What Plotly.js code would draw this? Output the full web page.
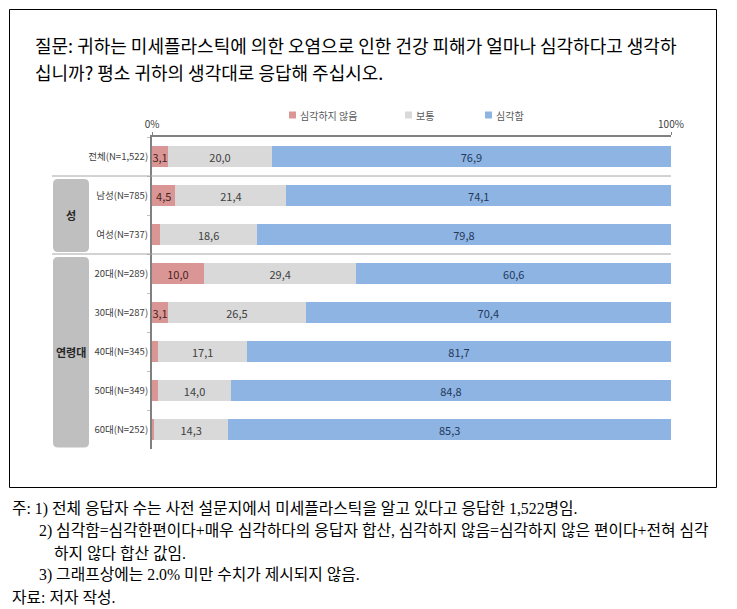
<!DOCTYPE html>
<html>
<head>
<meta charset="utf-8">
<script src="https://cdn.plot.ly/plotly-3.0.1.min.js"></script>
<style>
  html, body { margin: 0; padding: 0; background: #fff; }
  #myDiv { width: 737px; height: 609px; }
</style>
</head>
<body>
<div id="myDiv"></div>
<script>
// categories (top to bottom)
var groups = ['전체(N=1,522)', '남성(N=785)', '여성(N=737)', '20대(N=289)',
              '30대(N=287)', '40대(N=345)', '50대(N=349)', '60대(N=252)'];

// percentages
var notSerious = [3.1, 4.5, 1.6, 10.0, 3.1, 1.2, 1.2, 0.4];
var normal     = [20.0, 21.4, 18.6, 29.4, 26.5, 17.1, 14.0, 14.3];
var serious    = [76.9, 74.1, 79.8, 60.6, 70.4, 81.7, 84.8, 85.3];

var seriesNames = ['심각하지 않음', '보통', '심각함'];
var seriesColors = ['#d99694', '#d9d9d9', '#8eb4e3'];

// values under 2.0% are not shown (note 3)
function labels(arr) {
    return arr.map(function (v) {
        return v < 2 ? '' : v.toFixed(1).replace('.', ',');
    });
}

// pixel -> paper helpers (plot area: x 152..671, y 137..449)
function px(x) { return (x - 152) / 519; }
function py(y) { return (449 - y) / 312; }

var font = '"Noto Sans CJK KR", "Noto Sans", sans-serif';
var serif = '"Liberation Serif", "Noto Sans CJK KR", serif';

function barTrace(vals, i, txtColor) {
    return {
        type: 'bar',
        orientation: 'h',
        y: groups,
        x: vals,
        name: seriesNames[i],
        marker: {color: seriesColors[i], line: {width: 0}},
        text: labels(vals),
        textposition: 'inside',
        insidetextanchor: 'middle',
        textangle: 0,
        constraintext: 'none',
        insidetextfont: {family: font, size: 11, color: txtColor},
        hoverinfo: 'x+name'
    };
}

var data = [
    barTrace(notSerious, 0, '#4a2424'),
    barTrace(normal, 1, '#404040'),
    barTrace(serious, 2, '#24385a')
];

function roundRect(x0, x1, y0, y1) {
    var rx = 5 / 519, ry = 5 / 39;
    return 'M' + (x0 + rx) + ',' + y0 + ' L' + (x1 - rx) + ',' + y0 +
        ' Q' + x1 + ',' + y0 + ' ' + x1 + ',' + (y0 + ry) +
        ' L' + x1 + ',' + (y1 - ry) +
        ' Q' + x1 + ',' + y1 + ' ' + (x1 - rx) + ',' + y1 +
        ' L' + (x0 + rx) + ',' + y1 +
        ' Q' + x0 + ',' + y1 + ' ' + x0 + ',' + (y1 - ry) +
        ' L' + x0 + ',' + (y0 + ry) +
        ' Q' + x0 + ',' + y0 + ' ' + (x0 + rx) + ',' + y0 + ' Z';
}

var notes = [
    {x: 10, y: 509, t: '주: 1) 전체 응답자 수는 사전 설문지에서 미세플라스틱을 알고 있다고 응답한 1,522명임.'},
    {x: 37, y: 531, t: '2) 심각함=심각한편이다+매우 심각하다의 응답자 합산, 심각하지 않음=심각하지 않은 편이다+전혀 심각'},
    {x: 52, y: 553, t: '하지 않다 합산 값임.'},
    {x: 37, y: 575, t: '3) 그래프상에는 2.0% 미만 수치가 제시되지 않음.'},
    {x: 10, y: 597, t: '자료: 저자 작성.'}
];

var annotations = [
    {xref: 'paper', yref: 'paper', x: px(33), y: py(45), xanchor: 'left', yanchor: 'middle', showarrow: false,
     text: '질문: 귀하는 미세플라스틱에 의한 오염으로 인한 건강 피해가 얼마나 심각하다고 생각하',
     font: {family: font, size: 18, color: '#000'}},
    {xref: 'paper', yref: 'paper', x: px(33), y: py(72), xanchor: 'left', yanchor: 'middle', showarrow: false,
     text: '십니까? 평소 귀하의 생각대로 응답해 주십시오.',
     font: {family: font, size: 18, color: '#000'}},
    {xref: 'paper', yref: 'y', x: px(71), y: 1.5, xanchor: 'center', yanchor: 'middle', showarrow: false,
     text: '<b>성</b>', font: {family: font, size: 11, color: '#262626'}},
    {xref: 'paper', yref: 'y', x: px(71), y: 5, xanchor: 'center', yanchor: 'middle', showarrow: false,
     text: '<b>연령대</b>', font: {family: font, size: 11, color: '#262626'}}
];
notes.forEach(function (n) {
    annotations.push({xref: 'paper', yref: 'paper', x: px(n.x), y: py(n.y), xanchor: 'left', yanchor: 'middle',
        showarrow: false, text: n.t, font: {family: serif, size: 15.8, color: '#000'}});
});

var shapes = [
    // outer frame
    {type: 'rect', xref: 'paper', yref: 'paper', x0: px(9.5), x1: px(716.5), y0: py(487.5), y1: py(9.5),
     line: {color: '#000', width: 1}},
    // group separators
    {type: 'line', xref: 'paper', yref: 'y', x0: px(52), x1: 1, y0: 0.5, y1: 0.5, line: {color: '#a6a6a6', width: 1}},
    {type: 'line', xref: 'paper', yref: 'y', x0: px(52), x1: 1, y0: 2.5, y1: 2.5, line: {color: '#a6a6a6', width: 1}},
    // group boxes
    {type: 'path', xref: 'paper', yref: 'y', path: roundRect(px(53), px(89), 0.58, 2.45),
     fillcolor: '#bfbfbf', line: {width: 0}},
    {type: 'path', xref: 'paper', yref: 'y', path: roundRect(px(53), px(89), 2.58, 7.46),
     fillcolor: '#bfbfbf', line: {width: 0}}
];

// legend: small squares + labels above the chart
var legendX = [289, 405, 485];
seriesNames.forEach(function (name, i) {
    shapes.push({type: 'rect', xref: 'paper', yref: 'paper',
        x0: px(legendX[i]), x1: px(legendX[i] + 7), y0: py(118.5), y1: py(111.5),
        fillcolor: seriesColors[i], line: {width: 0}});
    annotations.push({xref: 'paper', yref: 'paper', x: px(legendX[i] + 9), y: py(115),
        xanchor: 'left', yanchor: 'middle', showarrow: false, text: name,
        font: {family: font, size: 10, color: '#595959'}});
});

var layout = {
    width: 737,
    height: 609,
    autosize: false,
    margin: {l: 152, r: 66, t: 137, b: 160},
    paper_bgcolor: '#fff',
    plot_bgcolor: '#fff',
    barmode: 'stack',
    bargap: 0.48,
    showlegend: false,
    xaxis: {
        side: 'top', range: [0, 100], fixedrange: true,
        tickvals: [0, 100], ticktext: ['0%', '100%'],
        showline: true, linecolor: '#808080', linewidth: 2,
        ticks: 'outside', ticklen: 3, tickcolor: '#808080',
        showgrid: false, zeroline: false,
        tickfont: {family: font, size: 10, color: '#404040'}
    },
    yaxis: {
        type: 'category', autorange: 'reversed', fixedrange: true,
        showline: true, linecolor: '#808080', linewidth: 2,
        ticks: 'outside', tickson: 'boundaries', ticklen: 3, tickcolor: '#bfbfbf',
        showgrid: false, zeroline: false,
        tickfont: {family: font, size: 9.5, color: '#404040'}
    },
    annotations: annotations,
    shapes: shapes
};

Plotly.newPlot('myDiv', data, layout, {displayModeBar: false, staticPlot: true});
</script>
</body>
</html>
